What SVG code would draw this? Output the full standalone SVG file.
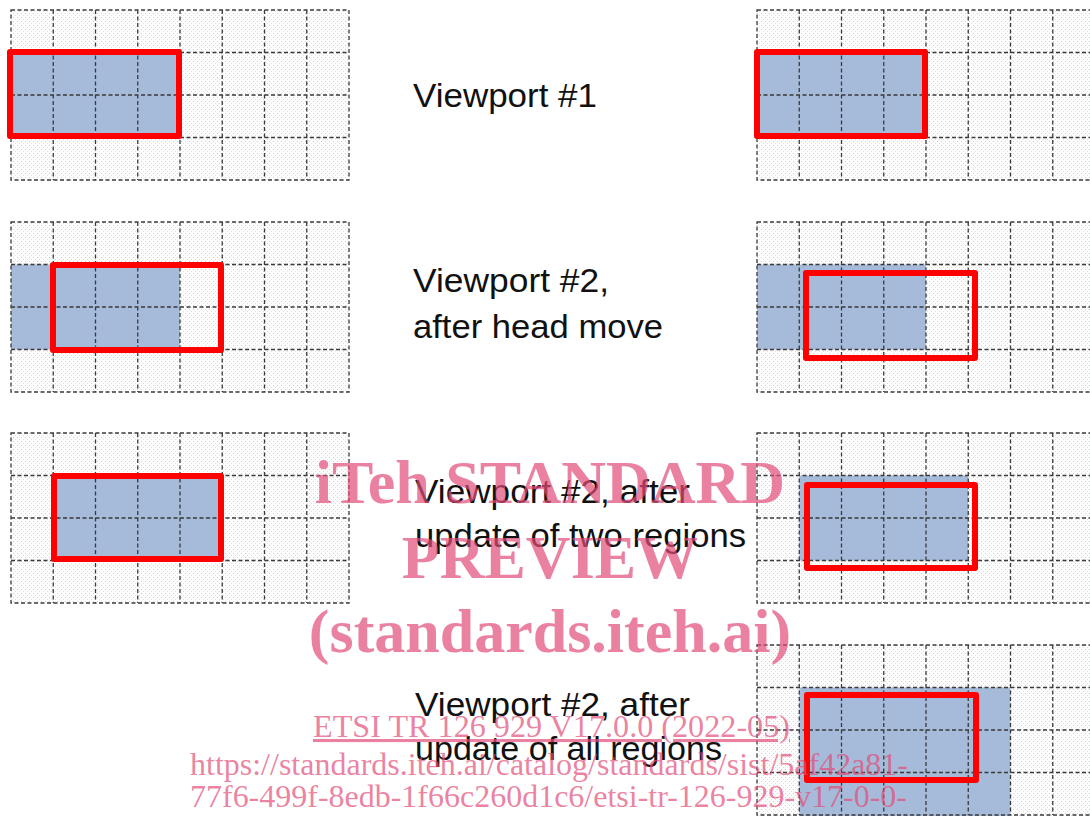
<svg xmlns="http://www.w3.org/2000/svg" xmlns:xlink="http://www.w3.org/1999/xlink" width="1090" height="816" viewBox="0 0 1090 816">
  <style>
    .label { font-family: "Liberation Sans", Arial, sans-serif; font-size: 33.5px; fill: #111; }
    .tile { fill: url(#dots); }
    .seen { fill: #a5bbd9; }
    .vp { fill: none; stroke: #ff0000; stroke-width: 6; stroke-linejoin: round; }
    .gl { fill: none; stroke: #3a3a3a; stroke-width: 1.3; stroke-dasharray: 4 2.5; }
    .wm { font-family: "Liberation Serif", "Times New Roman", serif; fill: #e24c77; fill-opacity: 0.7; }
    .wm-big { font-weight: bold; font-size: 62px; }
    .wm-small { font-size: 31px; }
  </style>
  <defs>
    <!-- fine dot texture of the tile background -->
    <pattern id="dots" width="4" height="4" patternUnits="userSpaceOnUse">
      <rect width="4" height="4" fill="#fdfdfe"/>
      <rect x="1" y="1" width="1" height="1" fill="#c9d1db"/>
      <rect x="3" y="3" width="1" height="1" fill="#dde2e9"/>
    </pattern>
    <!-- 8 x 4 tile grid, 338 x 170 -->
    <g id="gridLines">
      <path class="gl" d="M0 0H338V170H0Z
        M42.25 0V170 M84.5 0V170 M126.75 0V170 M169 0V170 M211.25 0V170 M253.5 0V170 M295.75 0V170
        M0 42.5H338 M0 85H338 M0 127.5H338"/>
    </g>
  </defs>

  <rect width="1090" height="816" fill="#ffffff"/>

  <!-- Row 1: initial viewport -->
  <g id="panel-1-left">
    <rect class="tile" x="11" y="10" width="338" height="170"/>
    <rect class="seen" x="11" y="52.5" width="169" height="85"/>
    <use xlink:href="#gridLines" x="11" y="10"/>
    <rect class="vp" x="10" y="52" width="169" height="84"/>
  </g>
  <g id="panel-1-right">
    <rect class="tile" x="757" y="10" width="338" height="170"/>
    <rect class="seen" x="757" y="52.5" width="169" height="85"/>
    <use xlink:href="#gridLines" x="757" y="10"/>
    <rect class="vp" x="757" y="52" width="168" height="84"/>
  </g>
  <g id="label-1">
    <text class="label" x="413" y="107" textLength="184" lengthAdjust="spacingAndGlyphs">Viewport #1</text>
  </g>

  <!-- Row 2: after head move -->
  <g id="panel-2-left">
    <rect class="tile" x="11" y="222" width="338" height="170"/>
    <rect class="seen" x="11" y="264.5" width="169" height="85"/>
    <use xlink:href="#gridLines" x="11" y="222"/>
    <rect class="vp" x="53" y="265" width="168" height="85"/>
  </g>
  <g id="panel-2-right">
    <rect class="tile" x="757" y="222" width="338" height="170"/>
    <rect class="seen" x="757" y="264.5" width="169" height="85"/>
    <use xlink:href="#gridLines" x="757" y="222"/>
    <rect class="vp" x="806" y="273" width="169" height="85"/>
  </g>
  <g id="label-2">
    <text class="label" x="413" y="292" textLength="196" lengthAdjust="spacingAndGlyphs">Viewport #2,</text>
    <text class="label" x="413" y="338" textLength="250" lengthAdjust="spacingAndGlyphs">after head move</text>
  </g>

  <!-- Row 3: two regions updated -->
  <g id="panel-3-left">
    <rect class="tile" x="11" y="433" width="338" height="170"/>
    <rect class="seen" x="53.25" y="475.5" width="169" height="85"/>
    <use xlink:href="#gridLines" x="11" y="433"/>
    <rect class="vp" x="54" y="476" width="167" height="83"/>
  </g>
  <g id="panel-3-right">
    <rect class="tile" x="757" y="433" width="338" height="170"/>
    <rect class="seen" x="799.25" y="475.5" width="169" height="85"/>
    <use xlink:href="#gridLines" x="757" y="433"/>
    <rect class="vp" x="807" y="485" width="168" height="83"/>
  </g>
  <g id="label-3">
    <text class="label" x="415" y="503" textLength="275" lengthAdjust="spacingAndGlyphs">Viewport #2, after</text>
    <text class="label" x="415" y="547" textLength="331" lengthAdjust="spacingAndGlyphs">update of two regions</text>
  </g>

  <!-- Row 4: all regions updated -->
  <g id="panel-4-right">
    <rect class="tile" x="757" y="645" width="338" height="171"/>
    <rect class="seen" x="799.25" y="687.5" width="211.25" height="130"/>
    <use xlink:href="#gridLines" x="757" y="645"/>
    <rect class="vp" x="807" y="695" width="169" height="85"/>
  </g>
  <g id="label-4">
    <text class="label" x="415" y="716" textLength="275" lengthAdjust="spacingAndGlyphs">Viewport #2, after</text>
    <text class="label" x="415" y="760" textLength="307" lengthAdjust="spacingAndGlyphs">update of all regions</text>
  </g>

  <!-- preview stamp -->
  <g id="stamp">
    <text class="wm wm-big" x="550" y="503" text-anchor="middle">iTeh STANDARD</text>
    <text class="wm wm-big" x="550" y="578" text-anchor="middle">PREVIEW</text>
    <text class="wm wm-big" x="550" y="652" text-anchor="middle">(standards.iteh.ai)</text>
    <text class="wm wm-small" x="313" y="737" textLength="477" lengthAdjust="spacingAndGlyphs" text-decoration="underline">ETSI TR 126 929 V17.0.0 (2022-05)</text>
    <text class="wm wm-small" x="190" y="775" textLength="718" lengthAdjust="spacingAndGlyphs">https://standards.iteh.ai/catalog/standards/sist/5af42a81-</text>
    <text class="wm wm-small" x="190" y="807" textLength="717" lengthAdjust="spacingAndGlyphs">77f6-499f-8edb-1f66c260d1c6/etsi-tr-126-929-v17-0-0-</text>
  </g>
</svg>
